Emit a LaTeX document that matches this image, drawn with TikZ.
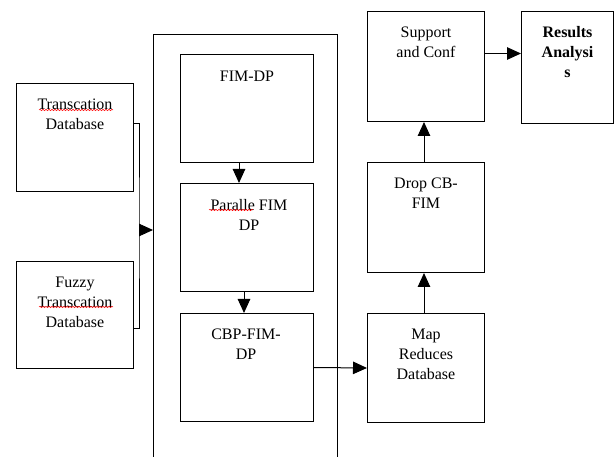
\documentclass[tikz,border=0pt]{standalone}
\usepackage{fontspec}
\setmainfont{Liberation Serif}
\usetikzlibrary{arrows.meta,decorations.pathmorphing}
\begin{document}
\begin{tikzpicture}[x=1pt,y=-1pt,
  box/.style={draw, line width=1pt, inner sep=0pt, anchor=north west},
  txt/.style={anchor=north, inner sep=0pt, align=center, font=\fontsize{16}{20}\selectfont},
  arr/.style={line width=1pt, -{Triangle[length=14pt,width=12.5pt]}},
  ln/.style={line width=1pt},
  spell/.style={draw=red, line width=0.5pt, decorate, decoration={snake, segment length=3pt, amplitude=0.7pt}}]
\useasboundingbox (0,0) rectangle (614,457);
\clip (0,0) rectangle (614,457);
% boxes
\node[box, minimum width=117pt, minimum height=108pt] (tdb) at (16,83) {};
\node[box, minimum width=117pt, minimum height=107pt] (fuz) at (16,261) {};
\node[box, minimum width=184pt, minimum height=450pt] (frame) at (153,34) {};
\node[box, minimum width=133pt, minimum height=108pt] (fim) at (180,54) {};
\node[box, minimum width=133pt, minimum height=108pt] (par) at (180,183) {};
\node[box, minimum width=133pt, minimum height=108pt] (cbp) at (180,313) {};
\node[box, minimum width=117pt, minimum height=110pt] (sup) at (367,11) {};
\node[box, minimum width=92pt, minimum height=112pt] (res) at (521,11) {};
\node[box, minimum width=117pt, minimum height=110pt] (drop) at (367,162) {};
\node[box, minimum width=117pt, minimum height=109pt] (map) at (367,313) {};
% texts
\node[txt] (ttdb) at ([yshift=-16pt]tdb.north) {Transcation\\Database};
\node[txt] (tfuz) at ([yshift=-16pt]fuz.north) {Fuzzy\\Transcation\\Database};
\node[txt] (tfim) at ([yshift=-17pt]fim.north) {FIM-DP};
\node[txt] (tpar) at ([xshift=2pt,yshift=-16pt]par.north) {Paralle FIM\\DP};
\node[txt] (tcbp) at ([xshift=-1pt,yshift=-16pt]cbp.north) {CBP-FIM-\\DP};
\node[txt] (tsup) at ([yshift=-16pt]sup.north) {Support\\and Conf};
\node[txt, font=\fontsize{16}{20}\selectfont\bfseries] (tres) at ([yshift=-15pt]res.north) {Results\\Analysi\\s};
\node[txt] (tdrop) at ([yshift=-16pt]drop.north) {Drop CB-\\FIM};
\node[txt] (tmap) at ([yshift=-16pt]map.north) {Map\\Reduces\\Database};
% spell-check marks
\draw[spell] ([xshift=-36pt,yshift=-27pt]tdb.north) -- ([xshift=38pt,yshift=-27pt]tdb.north);
\draw[spell] ([xshift=-36pt,yshift=-46pt]fuz.north) -- ([xshift=38pt,yshift=-46pt]fuz.north);
\draw[spell] ([xshift=-38pt,yshift=-27pt]par.north) -- ([xshift=6pt,yshift=-27pt]par.north);
% connectors
\coordinate (j) at (139,230);
\coordinate (s) at ([yshift=13pt]sup.east);
\draw[ln] ([yshift=14pt]tdb.east) -| (j) |- ([yshift=-13.5pt]fuz.east);
\draw[arr] (j) -- (j -| frame.west);
\draw[arr] ([xshift=-8pt]fim.south) -- ([xshift=-8pt]par.north);
\draw[arr] ([xshift=-3pt]par.south) -- ([xshift=-3pt]cbp.north);
\draw[arr] (cbp.east) -- (map.west);
\draw[arr] ([xshift=-2pt]map.north) -- ([xshift=-2pt]drop.south);
\draw[arr] ([xshift=-2pt]drop.north) -- ([xshift=-2pt]sup.south);
\draw[arr] (s) -- (s -| res.west);
\end{tikzpicture}
\end{document}
